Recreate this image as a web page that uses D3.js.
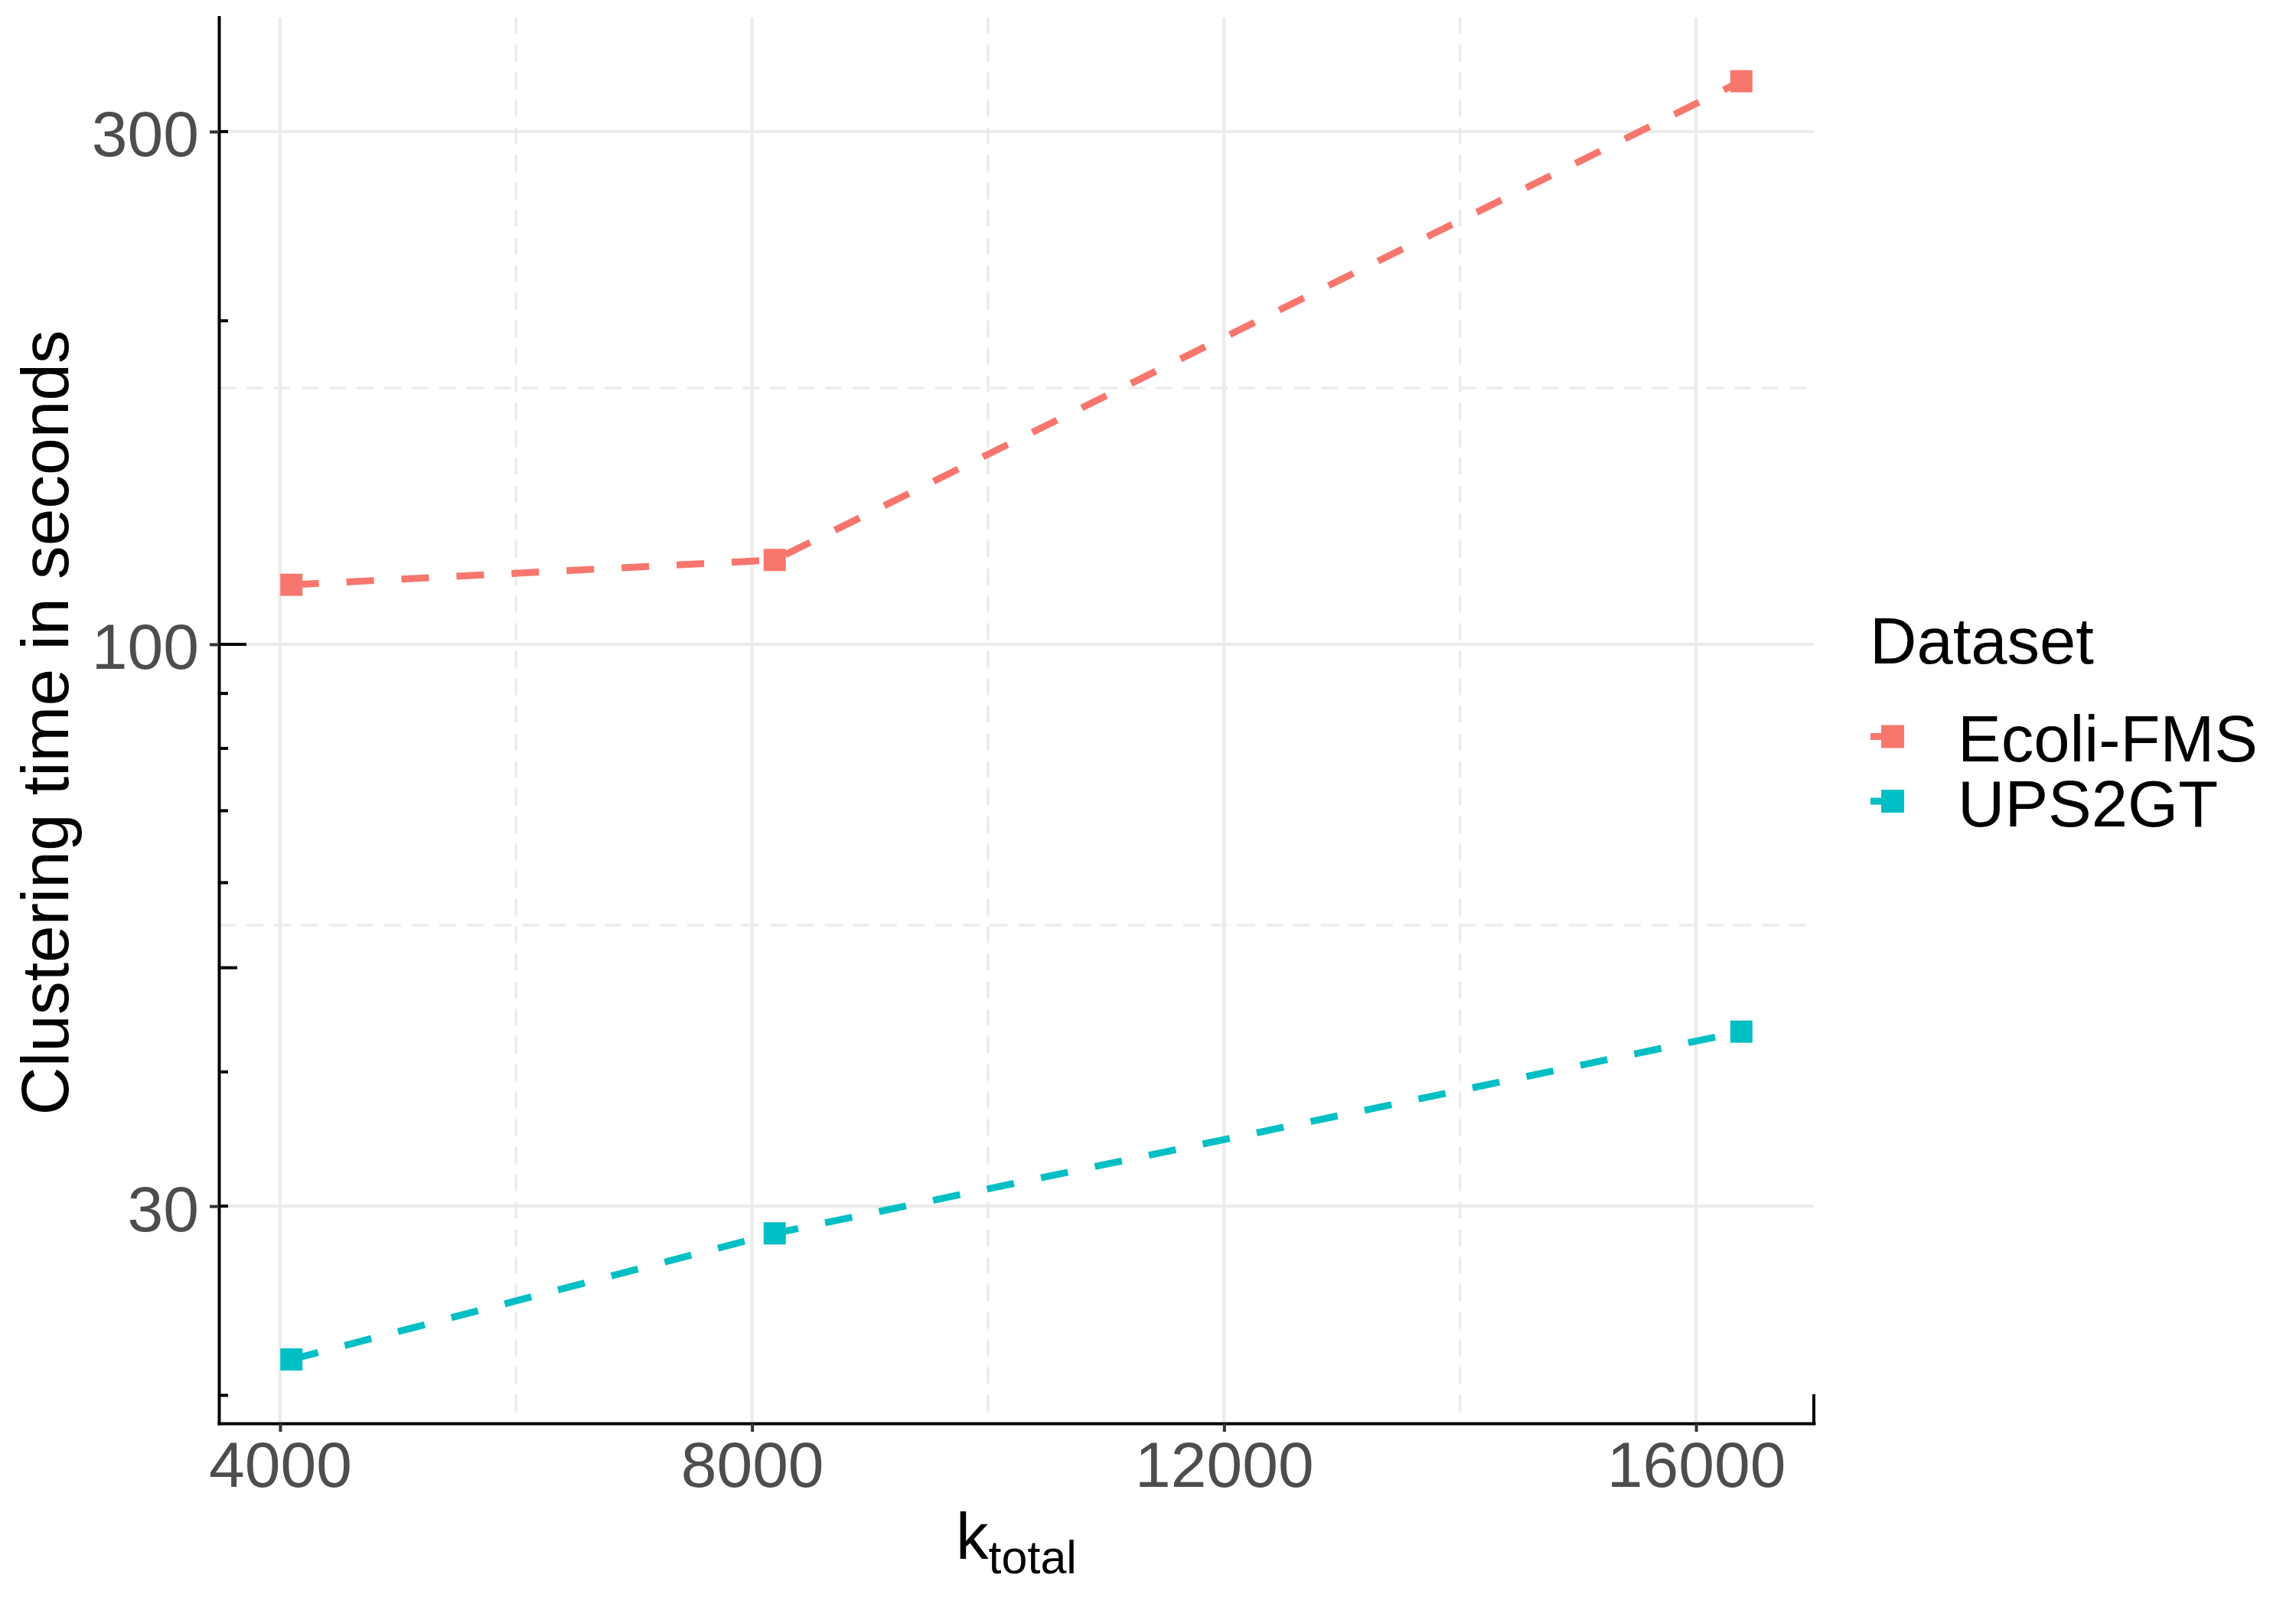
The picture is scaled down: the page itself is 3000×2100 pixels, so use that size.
<!DOCTYPE html>
<html>
<head>
<meta charset="utf-8">
<script src="https://cdn.jsdelivr.net/npm/d3@7"></script>
<style>
  body { margin: 0; background: #fff; }
  text { font-family: "Liberation Sans", Arial, Helvetica, sans-serif; }
</style>
</head>
<body>
<script>
// size of the picture
var w = 3000;
var h = 2100;

// data
var kTotal = [4096, 8192, 16384];
var ecoliFMS = [113.6, 119.8, 334.2];
var ups2gt = [21.6, 28.3, 43.6];

var seriesNames = ["Ecoli-FMS", "UPS2GT"];
var seriesColors = ["#F8766D", "#00BFC4"];

var xTicks = [4000, 8000, 12000, 16000];
var xMinor = [6000, 10000, 14000];
var yTicks = [30, 100, 300];
var yMinor = [Math.sqrt(30 * 100), Math.sqrt(100 * 300)];

// panel edges (note: "top" is taken by window.top)
var pLeft = 286, pRight = 2370, pTop = 22.6, pBottom = 1860;

var svg = d3.select("body")
    .append("svg")
    .attr("width", w)
    .attr("height", h);

svg.append("rect").attr("width", w).attr("height", h).attr("fill", "#fff");

// ggplot style 5% expansion
var xr = d3.extent(kTotal);
var xPad = (xr[1] - xr[0]) * 0.05;
var x = d3.scaleLinear()
    .domain([xr[0] - xPad, xr[1] + xPad])
    .range([pLeft, pRight]);

var allY = ecoliFMS.concat(ups2gt);
var ly = d3.extent(allY).map(Math.log10);
var lyPad = (ly[1] - ly[0]) * 0.05;
var y = d3.scaleLog()
    .domain([Math.pow(10, ly[0] - lyPad), Math.pow(10, ly[1] + lyPad)])
    .range([pBottom, pTop]);

// grid
var grid = svg.append("g");
grid.selectAll(".xminor").data(xMinor).enter().append("line")
    .attr("x1", function(d) { return x(d); })
    .attr("x2", function(d) { return x(d); })
    .attr("y1", pTop).attr("y2", pBottom)
    .attr("stroke", "#EBEBEB").attr("stroke-width", 3.5)
    .attr("stroke-dasharray", "22,14");
grid.selectAll(".yminor").data(yMinor).enter().append("line")
    .attr("y1", function(d) { return y(d); })
    .attr("y2", function(d) { return y(d); })
    .attr("x1", pLeft).attr("x2", pRight)
    .attr("stroke", "#EBEBEB").attr("stroke-width", 3.5)
    .attr("stroke-dasharray", "22,14");
grid.selectAll(".xmajor").data(xTicks).enter().append("line")
    .attr("x1", function(d) { return x(d); })
    .attr("x2", function(d) { return x(d); })
    .attr("y1", pTop).attr("y2", pBottom)
    .attr("stroke", "#EBEBEB").attr("stroke-width", 4.3);
grid.selectAll(".ymajor").data(yTicks).enter().append("line")
    .attr("y1", function(d) { return y(d); })
    .attr("y2", function(d) { return y(d); })
    .attr("x1", pLeft).attr("x2", pRight)
    .attr("stroke", "#EBEBEB").attr("stroke-width", 4.3);

// lines + points
var series = [ecoliFMS, ups2gt];
var line = d3.line()
    .x(function(d, i) { return x(kTotal[i]); })
    .y(function(d) { return y(d); });

series.forEach(function(vals, s) {
    svg.append("path")
        .datum(vals)
        .attr("d", line)
        .attr("fill", "none")
        .attr("stroke", seriesColors[s])
        .attr("stroke-width", 9)
        .attr("stroke-dasharray", "36,36");
    svg.selectAll(".pt" + s)
        .data(vals)
        .enter()
        .append("rect")
        .attr("x", function(d, i) { return x(kTotal[i]) - 14.5; })
        .attr("y", function(d) { return y(d) - 14.5; })
        .attr("width", 29)
        .attr("height", 29)
        .attr("fill", seriesColors[s]);
});

// log ticks inside the left axis
var logTicks = [];
[10, 100].forEach(function(p) {
    for (var j = 1; j <= 9; j++) {
        var v = j * p;
        if (v >= y.domain()[0] && v <= y.domain()[1]) logTicks.push(v);
    }
});
svg.selectAll(".logtick").data(logTicks).enter().append("line")
    .attr("x1", pLeft)
    .attr("x2", function(d) {
        var m = d / Math.pow(10, Math.floor(Math.log10(d) + 1e-9));
        var len = Math.abs(m - 1) < 1e-6 ? 36 : (Math.abs(m - 5) < 1e-6 ? 24 : 12);
        return pLeft + len;
    })
    .attr("y1", function(d) { return y(d); })
    .attr("y2", function(d) { return y(d); })
    .attr("stroke", "#000").attr("stroke-width", 4);

// small end mark on x axis
svg.append("line")
    .attr("x1", x.range()[1]).attr("x2", x.range()[1])
    .attr("y1", pBottom).attr("y2", pBottom - 38)
    .attr("stroke", "#000").attr("stroke-width", 4);

// axes
var xAxis = svg.append("g")
    .attr("transform", "translate(0," + pBottom + ")")
    .call(d3.axisBottom(x).tickValues(xTicks).tickSize(11).tickSizeOuter(0).tickPadding(12).tickFormat(d3.format("d")));
var yAxis = svg.append("g")
    .attr("transform", "translate(" + pLeft + ",0)")
    .call(d3.axisLeft(y).tickValues(yTicks).tickSize(12).tickSizeOuter(0).tickPadding(14).tickFormat(d3.format("d")));

[xAxis, yAxis].forEach(function(a) {
    a.select(".domain").attr("stroke", "#000").attr("stroke-width", 4).attr("stroke-linecap", "square");
    a.selectAll(".tick line").attr("stroke", "#333").attr("stroke-width", 4);
    a.selectAll(".tick text")
        .attr("fill", "#4D4D4D")
        .attr("font-size", "84px")
        .attr("font-family", "Liberation Sans, Arial, sans-serif");
});
xAxis.selectAll(".tick text").attr("dy", "0.71em");
yAxis.selectAll(".tick text").attr("dy", "0.38em");

// axis titles
var xt = svg.append("text")
    .attr("x", (pLeft + pRight) / 2)
    .attr("y", 2037)
    .attr("text-anchor", "middle")
    .attr("font-size", "85px")
    .attr("fill", "#000");
xt.append("tspan").text("k");
xt.append("tspan").attr("dy", 19).attr("font-size", "61px").text("total");

svg.append("text")
    .attr("transform", "translate(89," + ((pTop + pBottom) / 2 + 3) + ") rotate(-90)")
    .attr("text-anchor", "middle")
    .attr("font-size", "87.5px")
    .attr("fill", "#000")
    .text("Clustering time in seconds");

// legend
var legend = svg.append("g");
legend.append("text")
    .attr("x", 2443).attr("y", 867)
    .attr("font-size", "85px")
    .attr("fill", "#000")
    .text("Dataset");

var keys = legend.selectAll(".key")
    .data(seriesNames)
    .enter()
    .append("g")
    .attr("transform", function(d, i) { return "translate(2473," + (962.5 + i * 84.5) + ")"; });
keys.append("line")
    .attr("x1", -29).attr("x2", 29)
    .attr("stroke", function(d, i) { return seriesColors[i]; })
    .attr("stroke-width", 9)
    .attr("stroke-dasharray", "36,36");
keys.append("rect")
    .attr("x", -15).attr("y", -15)
    .attr("width", 30).attr("height", 30)
    .attr("fill", function(d, i) { return seriesColors[i]; });
keys.append("text")
    .attr("x", 85)
    .attr("y", 32.5)
    .attr("font-size", "85px")
    .attr("fill", "#000")
    .text(function(d) { return d; });
</script>
</body>
</html>
